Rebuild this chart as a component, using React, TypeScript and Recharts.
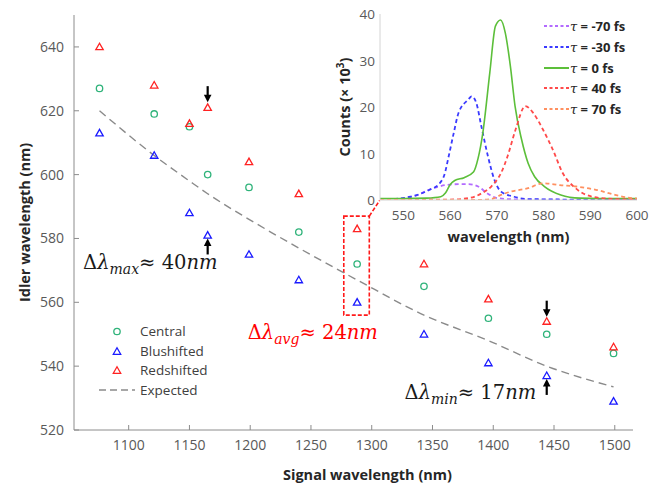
import React from 'react';
import {
  ComposedChart, LineChart, Scatter, Line, XAxis, YAxis,
  ReferenceDot, ReferenceArea, ReferenceLine, Legend, Label,
} from 'recharts';

// ---------- main chart data ----------
const signalWl = [1076, 1121, 1150, 1165, 1199, 1240, 1288, 1343, 1396, 1444, 1499];
const centralIdler = [627, 619, 615, 600, 596, 582, 572, 565, 555, 550, 544];
const blueIdler = [613, 606, 588, 581, 575, 567, 560, 550, 541, 537, 529];
const redIdler = [640, 628, 616, 621, 604, 594, 583, 572, 561, 554, 546];
const expectedIdler = [620, 606, 598, 594, 586, 577, 567, 556, 548, 540, 533.5];
const signalTicks = [1100, 1150, 1200, 1250, 1300, 1350, 1400, 1450, 1500];
const idlerTicks = [520, 540, 560, 580, 600, 620, 640];

// ---------- inset data ----------
const wlM70 = [545, 552, 555.5, 559, 561.8, 563.9, 566, 568, 570.2, 575, 600];
const cM70 = [0, 0.7, 2.2, 3.2, 3.4, 3.4, 2.9, 1.4, 0.4, 0.1, 0];
const wlM30 = [545, 551.5, 555.6, 557.6, 558.8, 559.7, 560.8, 561.8, 563.9, 564.6, 565.6, 566.7, 568.1, 569.5, 570.9, 573.7, 576.5, 600];
const cM30 = [0, 0.7, 2.2, 3.4, 5.5, 9.4, 14.5, 18.7, 21.6, 22.3, 20.9, 15.8, 9.4, 4.3, 1.8, 0.7, 0.2, 0];
const wl0 = [545, 550, 555, 558, 559, 560, 561, 563, 565, 566, 567, 568.5, 569.7, 570.8, 571.8, 572.9, 573.9, 575.3, 576.7, 578.1, 580.2, 583.7, 587.8, 592, 600];
const c0 = [0.3, 0.3, 0.4, 0.7, 1.5, 3.3, 4.2, 4.8, 6, 9, 14.4, 27.4, 37.4, 38.7, 36, 28.8, 20.2, 13, 7.9, 5, 2.9, 1.1, 0.4, 0.3, 0.3];
const wl40 = [545, 560, 564, 566.7, 568.8, 570.9, 572.3, 574, 576.1, 577.8, 579.9, 582, 584.1, 586.9, 590.5, 595.3, 600];
const c40 = [0, 0.1, 0.4, 1.4, 2.9, 5.8, 9.4, 15.1, 20.2, 18.7, 15.1, 10.8, 5.8, 2.5, 0.7, 0.2, 0.1];
const wl70 = [545, 565, 568.8, 570.9, 573, 576.5, 580, 583.5, 587, 591.2, 595.3, 598.8, 600];
const c70 = [0, 0, 0.2, 1.1, 1.8, 2.5, 3.6, 3.2, 2.9, 2.2, 1.1, 0.4, 0.3];
const insetXTicks = [550, 560, 570, 580, 590, 600];
const insetYTicks = [0, 10, 20, 30, 40];
const tauLabels = ['-70', '-30', '0', '40', '70'];

const toPts = (xs: number[], ys: number[]) => xs.map((x, i) => ({ x, y: ys[i] }));

const GREEN = '#2fb37a';
const BLUE = '#1a1aff';
const RED = '#ff2222';

const mainSeries = [
  { name: 'Central', color: GREEN, marker: 'circle', data: toPts(signalWl, centralIdler) },
  { name: 'Blushifted', color: BLUE, marker: 'triangle', data: toPts(signalWl, blueIdler) },
  { name: 'Redshifted', color: RED, marker: 'triangle', data: toPts(signalWl, redIdler) },
];

const insetSeries = [
  { tau: tauLabels[0], color: '#b36bff', dash: '4 3', data: toPts(wlM70, cM70) },
  { tau: tauLabels[1], color: '#3a3aff', dash: '4 3', data: toPts(wlM30, cM30) },
  { tau: tauLabels[2], color: '#5cbf3a', dash: undefined, data: toPts(wl0, c0) },
  { tau: tauLabels[3], color: '#ff4a4a', dash: '4 3', data: toPts(wl40, c40) },
  { tau: tauLabels[4], color: '#ff9060', dash: '4 3', data: toPts(wl70, c70) },
];

const FONT = '"Open Sans", sans-serif';
const MATH = '"DejaVu Serif", serif';

const Marker = ({ cx, cy, kind, color }: any) =>
  kind === 'circle' ? (
    <circle cx={cx} cy={cy} r={3.2} fill="none" stroke={color} strokeWidth={1.3} />
  ) : (
    <polygon
      points={`${cx},${cy - 3.7} ${cx - 3.7},${cy + 2.8} ${cx + 3.7},${cy + 2.8}`}
      fill="none" stroke={color} strokeWidth={1.3} strokeLinejoin="miter"
    />
  );

const BottomTick = (props: any) => {
  const { x, y, payload } = props;
  return (
    <g>
      <line x1={x} y1={y} x2={x} y2={y - 5} stroke="#8c8c8c" />
      <text x={x} y={y + 20} textAnchor="middle" fill="#595959" fontSize={14} fontFamily={FONT}>{payload.value}</text>
    </g>
  );
};
const LeftTick = (props: any) => {
  const { x, y, payload } = props;
  return (
    <g>
      <line x1={x} y1={y} x2={x + 5} y2={y} stroke="#8c8c8c" />
      <text x={x - 10} y={y + 5} textAnchor="end" fill="#595959" fontSize={14} fontFamily={FONT}>{payload.value}</text>
    </g>
  );
};
const InsetBottomTick = (props: any) => {
  const { x, y, payload } = props;
  return <text x={x} y={y + 20} textAnchor="middle" fill="#595959" fontSize={13.5} fontFamily={FONT}>{payload.value}</text>;
};
const InsetLeftTick = (props: any) => {
  const { x, y, payload } = props;
  return <text x={x - 5} y={y + 5} textAnchor="end" fill="#595959" fontSize={13.5} fontFamily={FONT}>{payload.value}</text>;
};

const arrowShape = (dir: 'up' | 'down') => (p: any) => {
  const { cx, cy } = p;
  const s = dir === 'down' ? -1 : 1;
  return (
    <g>
      <line x1={cx} y1={cy + s * 16} x2={cx} y2={cy + s * 6} stroke="#000" strokeWidth={2.2} />
      <polygon points={`${cx},${cy} ${cx - 3.8},${cy + s * 7.5} ${cx + 3.8},${cy + s * 7.5}`} fill="#000" />
    </g>
  );
};

const deltaText = (sub: string, value: string, color: string) => (p: any) => {
  const { cx, cy } = p;
  return (
    <text x={cx} y={cy} fill={color} fontFamily={MATH} fontSize={19.5}>
      <tspan>Δ</tspan>
      <tspan fontStyle="italic">λ</tspan>
      <tspan fontStyle="italic" fontSize={14} dy={5}>{sub}</tspan>
      <tspan dy={-5}>≈ {value}</tspan>
      <tspan fontStyle="italic">nm</tspan>
    </text>
  );
};

const MainLegend = () => (
  <div style={{ fontFamily: FONT, fontSize: 13.5, color: '#404040' }}>
    {mainSeries.map((s) => (
      <div key={s.name} style={{ display: 'flex', alignItems: 'center', height: 19.7 }}>
        <svg width={44} height={14}>
          <Marker cx={22} cy={7.5} kind={s.marker} color={s.color} />
        </svg>
        <span style={{ marginLeft: 1 }}>{s.name}</span>
      </div>
    ))}
    <div style={{ display: 'flex', alignItems: 'center', height: 19.7 }}>
      <svg width={44} height={14}>
        <line x1={4} y1={7} x2={40} y2={7} stroke="#8a8a8a" strokeWidth={1.4} strokeDasharray="7 4" />
      </svg>
      <span style={{ marginLeft: 1 }}>Expected</span>
    </div>
  </div>
);

const InsetLegend = () => (
  <div style={{ fontFamily: FONT, fontSize: 13, fontWeight: 700, color: '#262626' }}>
    {insetSeries.map((s) => (
      <div key={s.tau} style={{ display: 'flex', alignItems: 'center', height: 20.7 }}>
        <svg width={26} height={10}>
          <line x1={0} y1={5} x2={25} y2={5} stroke={s.color} strokeWidth={2} strokeDasharray={s.dash ? '3 2.5' : undefined} />
        </svg>
        <span>
          <span style={{ fontFamily: MATH, fontStyle: 'italic', fontWeight: 400 }}>τ</span> = {s.tau} fs
        </span>
      </div>
    ))}
  </div>
);

export default function App() {
  return (
    <div style={{ position: 'absolute', left: 0, top: 0, width: 662, height: 488, background: '#fff', fontFamily: FONT }}>
      <ComposedChart width={662} height={488} margin={{ top: 15, right: 29, bottom: 0, left: 0 }}>
        <XAxis
          type="number" dataKey="x" domain={[1055, 1515]} ticks={signalTicks}
          axisLine={{ stroke: '#8c8c8c' }} tickLine={false} tickSize={0} tickMargin={0}
          tick={<BottomTick />} height={58} allowDataOverflow
        >
          <Label
            content={(p: any) => {
              const vb = p.viewBox;
              return (
                <text x={vb.x + vb.width / 2 + 14} y={vb.y + 50} textAnchor="middle" fontFamily={FONT} fontWeight={700} fontSize={14.5} fill="#262626">
                  Signal wavelength (nm)
                </text>
              );
            }}
          />
        </XAxis>
        <YAxis
          type="number" domain={[520, 650]} ticks={idlerTicks}
          axisLine={{ stroke: '#8c8c8c' }} tickLine={false} tickSize={0} tickMargin={0}
          tick={<LeftTick />} width={74} allowDataOverflow
        >
          <Label
            content={(p: any) => {
              const vb = p.viewBox;
              const cx = vb.x + 30;
              const cy = vb.y + vb.height / 2;
              return (
                <text x={cx} y={cy} transform={`rotate(-90 ${cx} ${cy})`} textAnchor="middle" fontFamily={FONT} fontWeight={700} fontSize={14.5} fill="#262626">
                  Idler wavelength (nm)
                </text>
              );
            }}
          />
        </YAxis>
        <Line
          data={toPts(signalWl, expectedIdler)} dataKey="y" type="monotone"
          stroke="#8a8a8a" strokeWidth={1.4} strokeDasharray="8 5" dot={false}
          isAnimationActive={false} legendType="none"
        />
        {mainSeries.map((s) => (
          <Scatter
            key={s.name} name={s.name} data={s.data} dataKey="y" fill={s.color}
            isAnimationActive={false}
            shape={(p: any) => <Marker cx={p.cx} cy={p.cy} kind={s.marker} color={s.color} />}
          />
        ))}
        <ReferenceArea x1={1277} x2={1298} y1={556} y2={587} fill="none" fillOpacity={0} stroke="#ff1a1a" strokeWidth={1.6} strokeDasharray="4 2" />
        <ReferenceLine segment={[{ x: 1298, y: 587 }, { x: 1306.5, y: 591.9 }]} stroke="#ff1a1a" strokeWidth={1.6} strokeDasharray="4 2" />
        <ReferenceDot x={1165} y={622.7} r={0} shape={arrowShape('down')} />
        <ReferenceDot x={1165} y={580} r={0} shape={arrowShape('up')} />
        <ReferenceDot x={1444} y={555.5} r={0} shape={arrowShape('down')} />
        <ReferenceDot x={1444} y={536} r={0} shape={arrowShape('up')} />
        <ReferenceDot x={1062.5} y={570.5} r={0} shape={deltaText('max', '40', '#1a1a1a')} />
        <ReferenceDot x={1198} y={548.5} r={0} shape={deltaText('avg', '24', '#ff0000')} />
        <ReferenceDot x={1327} y={529.6} r={0} shape={deltaText('min', '17', '#1a1a1a')} />
        <Legend
          layout="vertical" align="center" verticalAlign="middle"
          wrapperStyle={{ left: 95, top: 321, width: 140 }}
          content={() => <MainLegend />}
        />
      </ComposedChart>

      <div style={{ position: 'absolute', left: 330, top: 0 }}>
        <LineChart width={320} height={250} margin={{ top: 14, right: 13, bottom: 0, left: 0 }}>
          <XAxis
            type="number" dataKey="x" domain={[545, 600]} ticks={insetXTicks}
            axisLine={{ stroke: '#d4d4d4' }} tickLine={false} tickSize={0} tickMargin={0}
            tick={<InsetBottomTick />} height={50} allowDataOverflow
          >
            <Label
              content={(p: any) => {
                const vb = p.viewBox;
                return (
                  <text x={vb.x + vb.width / 2} y={vb.y + 42} textAnchor="middle" fontFamily={FONT} fontWeight={700} fontSize={14.5} fill="#262626">
                    wavelength (nm)
                  </text>
                );
              }}
            />
          </XAxis>
          <YAxis
            type="number" domain={[0, 40]} ticks={insetYTicks}
            axisLine={{ stroke: '#d4d4d4' }} tickLine={false} tickSize={0} tickMargin={0}
            tick={<InsetLeftTick />} width={50} allowDataOverflow
          >
            <Label
              content={(p: any) => {
                const vb = p.viewBox;
                const cx = vb.x + 20;
                const cy = vb.y + vb.height / 2;
                return (
                  <text x={cx} y={cy} transform={`rotate(-90 ${cx} ${cy})`} textAnchor="middle" fontFamily={FONT} fontWeight={700} fontSize={14.5} fill="#262626">
                    Counts (× 10<tspan fontSize={10} dy={-6}>3</tspan><tspan dy={6}>)</tspan>
                  </text>
                );
              }}
            />
          </YAxis>
          {insetSeries.map((s) => (
            <Line
              key={s.tau} data={s.data} dataKey="y" type="monotone" name={`τ = ${s.tau} fs`}
              stroke={s.color} strokeWidth={s.dash ? 1.8 : 1.6} strokeDasharray={s.dash}
              dot={false} isAnimationActive={false}
            />
          ))}
          <Legend
            layout="vertical" align="center" verticalAlign="middle"
            wrapperStyle={{ left: 214, top: 16, width: 110 }}
            content={() => <InsetLegend />}
          />
        </LineChart>
      </div>
    </div>
  );
}
